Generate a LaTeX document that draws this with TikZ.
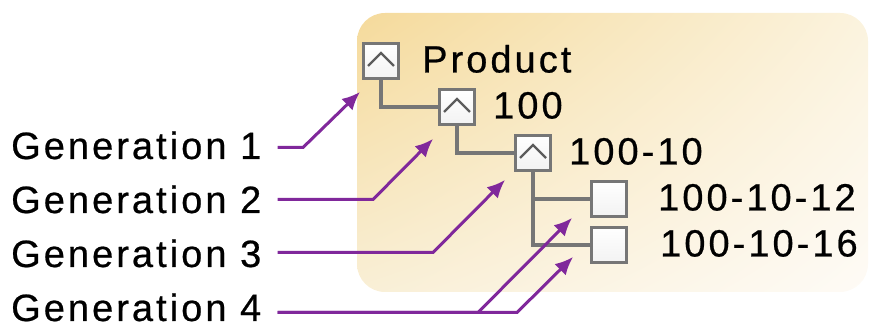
\documentclass[tikz,border=0pt]{standalone}
\usepackage{fontspec}
\setmainfont{Liberation Sans}[LetterSpace=8, FakeBold=0.6]
\usetikzlibrary{positioning,arrows.meta,shadings}

\definecolor{treegray}{RGB}{118,118,118}
\definecolor{chevgray}{RGB}{92,92,92}
\definecolor{genpurple}{RGB}{128,40,155}
\definecolor{panelUL}{RGB}{245,218,155}
\definecolor{panelUR}{RGB}{251,243,222}
\definecolor{panelLL}{RGB}{249,239,214}
\definecolor{panelLR}{RGB}{254,251,246}

\begin{document}
\begin{tikzpicture}[x=1pt,y=1pt]

% Definitions
\tikzstyle{box} = [rectangle, minimum size=35pt, inner sep=0pt, draw=treegray, line width=3pt, top color=white, bottom color=black!5]
\tikzstyle{expbox} = [box, path picture={\draw[chevgray, line width=2.4pt] ([shift={(-13pt,-5pt)}]path picture bounding box.center) -- ([shift={(0pt,8pt)}]path picture bounding box.center) -- ([shift={(13pt,-5pt)}]path picture bounding box.center);}]
\tikzstyle{lbl} = [inner sep=0pt, text height=27pt, text depth=0pt, font=\fontsize{38pt}{40pt}\selectfont]
\tikzstyle{link} = [draw=treegray, line width=3.2pt]
\tikzstyle{arrow} = [draw=genpurple, line width=3pt, -{Latex[length=18pt,width=16pt]}]

\useasboundingbox (0,0) rectangle (878,328);
\shade[rounded corners=28pt, upper left=panelUL, upper right=panelUR, lower left=panelLL, lower right=panelLR] (357,36) rectangle (868,315);

% Tree
\node (p0) [expbox] at (381,267) {};
\node (p1) [expbox, on grid, below right=46pt and 76pt of p0] {};
\node (p2) [expbox, on grid, below right=46pt and 76pt of p1] {};
\node (leafA) [box, on grid, below right=46pt and 76pt of p2] {};
\node (leafB) [box, on grid, below=46pt of leafA] {};

\node (tp0) [lbl, right=22pt of p0, yshift=2pt] {Product};
\node (tp1) [lbl, right=17pt of p1, yshift=2pt] {100};
\node (tp2) [lbl, right=17pt of p2, yshift=2pt] {100-10};
\node (tleafA) [lbl, right=30pt of leafA, yshift=2pt] {100-10-12};
\node (tleafB) [lbl, right=32pt of leafB, yshift=2pt] {100-10-16};

\draw [link] (p0.south) |- (p1.west);
\draw [link] (p1.south) |- (p2.west);
\draw [link] (p2.south) |- (leafA.west);
\draw [link] (p2.south) |- (leafB.west);

% Generations
\node (g1) [lbl, anchor=base west] at (11,169) {Generation 1};
\node (g2) [lbl, anchor=base west] at ([yshift=-54pt]g1.base west) {Generation 2};
\node (g3) [lbl, anchor=base west] at ([yshift=-54pt]g2.base west) {Generation 3};
\node (g4) [lbl, anchor=base west] at ([yshift=-54pt]g3.base west) {Generation 4};

\coordinate (s1) at ([xshift=16pt,yshift=-2pt]g1.east);
\coordinate (s2) at ([xshift=16pt,yshift=0pt]g2.east);
\coordinate (s3) at ([xshift=16pt,yshift=1pt]g3.east);
\coordinate (s4) at ([xshift=16pt,yshift=-5pt]g4.east);

\coordinate (t1) at ([shift={(-2pt,-12pt)}]p0.south west);
\coordinate (t2) at ([shift={(-5pt,-13pt)}]p1.south west);
\coordinate (t3) at ([shift={(-9pt,-8pt)}]p2.south west);
\coordinate (t4a) at ([shift={(-18pt,-19pt)}]leafA.west);
\coordinate (t4b) at ([shift={(-17pt,-12pt)}]leafB.west);

\draw [arrow] (s1) -- ([xshift=-57pt]t1 |- s1) -- (t1);
\draw [arrow] (s2) -- ([xshift=-60pt]t2 |- s2) -- (t2);
\draw [arrow] (s3) -- ([xshift=-72pt]t3 |- s3) -- (t3);
\draw [arrow] (s4) -- ([xshift=-94pt]t4a |- s4) -- (t4a);
\draw [arrow] (s4) -- ([xshift=-56pt]t4b |- s4) -- (t4b);

\end{tikzpicture}
\end{document}
